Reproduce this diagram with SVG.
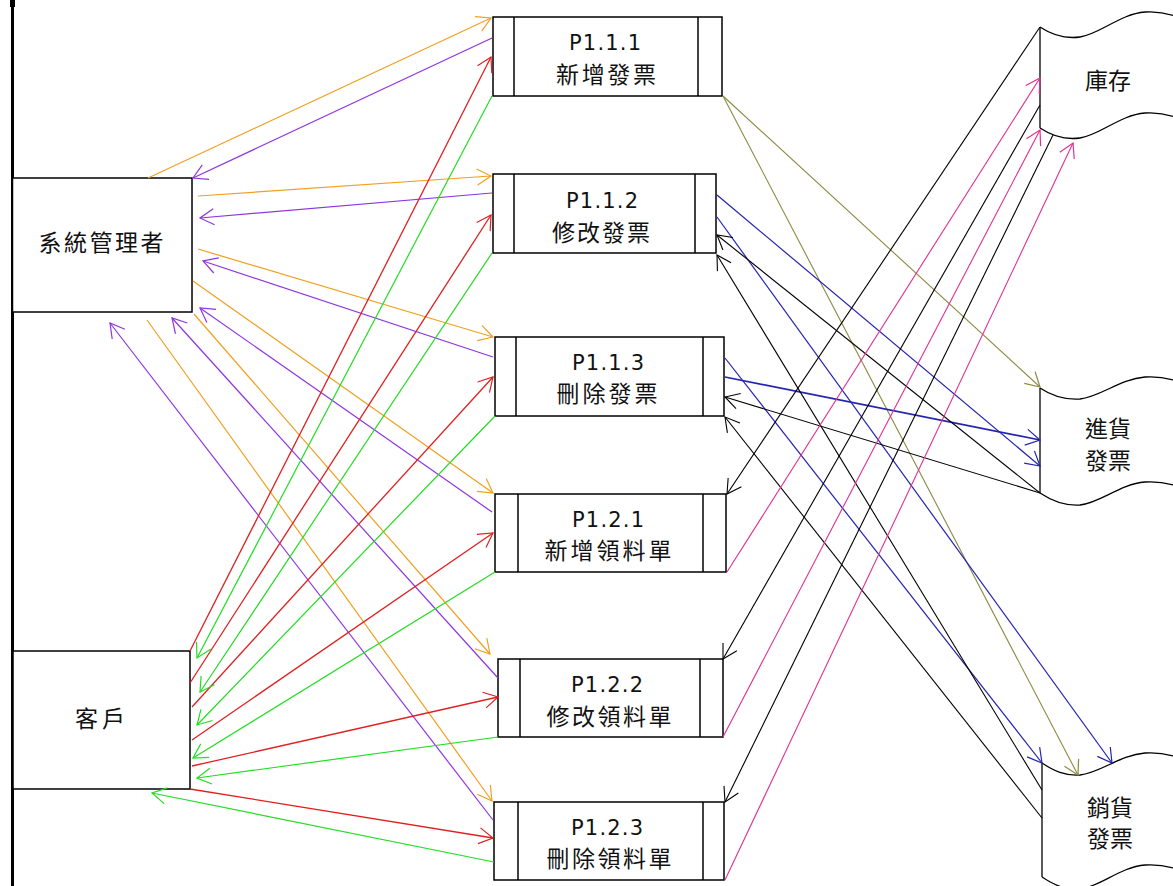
<svg xmlns="http://www.w3.org/2000/svg" width="1173" height="886" viewBox="0 0 1173 886">
<style>
.box{fill:#fff;stroke:#000;stroke-width:1.5}
.in{stroke:#000;stroke-width:1.5}
.ds{fill:none;stroke:#000;stroke-width:1.3}
.t{font-family:"DejaVu Sans","Noto Sans CJK TC",sans-serif;font-size:21px;fill:#111;text-anchor:middle}
.c{font-family:"Noto Sans CJK TC","Noto Sans CJK SC",sans-serif;font-size:23px;fill:#111;text-anchor:middle}
.or{stroke:#f0a020;stroke-width:1.2;fill:none;marker-end:url(#a-or)}
.pu{stroke:#8e35e0;stroke-width:1.2;fill:none;marker-end:url(#a-pu)}
.rd{stroke:#e02020;stroke-width:1.3;fill:none;marker-end:url(#a-rd)}
.gr{stroke:#22dd22;stroke-width:1.2;fill:none;marker-end:url(#a-gr)}
.ol{stroke:#8a8a40;stroke-width:1.1;fill:none;marker-end:url(#a-ol)}
.bl{stroke:#2323b0;stroke-width:1.2;fill:none;marker-end:url(#a-bl)}
.bk{stroke:#000;stroke-width:1.1;fill:none;marker-end:url(#a-bk)}
.pk{stroke:#e0308f;stroke-width:1.1;fill:none;marker-end:url(#a-pk)}
</style>
<defs>
<marker id="a-or" viewBox="-1 -9 17 18" refX="14" refY="0" markerWidth="17" markerHeight="18" markerUnits="userSpaceOnUse" orient="auto"><path d="M0,-8 L14,0 L0,8" fill="none" stroke="#f0a020" stroke-width="1.2"/></marker>
<marker id="a-pu" viewBox="-1 -9 17 18" refX="14" refY="0" markerWidth="17" markerHeight="18" markerUnits="userSpaceOnUse" orient="auto"><path d="M0,-8 L14,0 L0,8" fill="none" stroke="#8e35e0" stroke-width="1.2"/></marker>
<marker id="a-rd" viewBox="-1 -9 17 18" refX="14" refY="0" markerWidth="17" markerHeight="18" markerUnits="userSpaceOnUse" orient="auto"><path d="M0,-8 L14,0 L0,8" fill="none" stroke="#e02020" stroke-width="1.2"/></marker>
<marker id="a-gr" viewBox="-1 -9 17 18" refX="14" refY="0" markerWidth="17" markerHeight="18" markerUnits="userSpaceOnUse" orient="auto"><path d="M0,-8 L14,0 L0,8" fill="none" stroke="#22dd22" stroke-width="1.2"/></marker>
<marker id="a-ol" viewBox="-1 -9 17 18" refX="14" refY="0" markerWidth="17" markerHeight="18" markerUnits="userSpaceOnUse" orient="auto"><path d="M0,-8 L14,0 L0,8" fill="none" stroke="#8a8a40" stroke-width="1.2"/></marker>
<marker id="a-bl" viewBox="-1 -9 17 18" refX="14" refY="0" markerWidth="17" markerHeight="18" markerUnits="userSpaceOnUse" orient="auto"><path d="M0,-8 L14,0 L0,8" fill="none" stroke="#2323b0" stroke-width="1.2"/></marker>
<marker id="a-bk" viewBox="-1 -9 17 18" refX="14" refY="0" markerWidth="17" markerHeight="18" markerUnits="userSpaceOnUse" orient="auto"><path d="M0,-8 L14,0 L0,8" fill="none" stroke="#000" stroke-width="1.1"/></marker>
<marker id="a-pk" viewBox="-1 -9 17 18" refX="14" refY="0" markerWidth="17" markerHeight="18" markerUnits="userSpaceOnUse" orient="auto"><path d="M0,-8 L14,0 L0,8" fill="none" stroke="#e0308f" stroke-width="1.2"/></marker>
</defs>
<rect width="1173" height="886" fill="#fff"/>
<rect x="11" y="0" width="3" height="886" fill="#000"/>
<rect x="10" y="0" width="5" height="7" fill="#000"/>

<g id="admin">
<rect class="box" x="12.5" y="178" width="179.5" height="134"/>
<text class="c" x="101" y="251" textLength="125" lengthAdjust="spacing">系統管理者</text>
</g>
<g id="client">
<rect class="box" x="13" y="651" width="177" height="138"/>
<text class="c" x="100" y="727" textLength="50" lengthAdjust="spacing">客戶</text>
</g>

<g id="p111">
<rect class="box" x="493" y="17" width="229" height="79"/>
<line class="in" x1="514" y1="17" x2="514" y2="96"/><line class="in" x1="698" y1="17" x2="698" y2="96"/>
<text class="t" x="605" y="50" textLength="72" lengthAdjust="spacing">P1.1.1</text>
<text class="c" x="606" y="83" textLength="100" lengthAdjust="spacing">新增發票</text>
</g>
<g id="p112">
<rect class="box" x="493" y="174" width="223" height="79"/>
<line class="in" x1="514" y1="174" x2="514" y2="253"/><line class="in" x1="695" y1="174" x2="695" y2="253"/>
<text class="t" x="602" y="208" textLength="72" lengthAdjust="spacing">P1.1.2</text>
<text class="c" x="601" y="241" textLength="98" lengthAdjust="spacing">修改發票</text>
</g>
<g id="p113">
<rect class="box" x="495" y="337" width="229" height="79"/>
<line class="in" x1="516" y1="337" x2="516" y2="416"/><line class="in" x1="703" y1="337" x2="703" y2="416"/>
<text class="t" x="608" y="370" textLength="72" lengthAdjust="spacing">P1.1.3</text>
<text class="c" x="607" y="402" textLength="101" lengthAdjust="spacing">刪除發票</text>
</g>
<g id="p121">
<rect class="box" x="495" y="494" width="231" height="78"/>
<line class="in" x1="518" y1="494" x2="518" y2="572"/><line class="in" x1="703" y1="494" x2="703" y2="572"/>
<text class="t" x="608" y="527" textLength="72" lengthAdjust="spacing">P1.2.1</text>
<text class="c" x="608" y="559" textLength="127" lengthAdjust="spacing">新增領料單</text>
</g>
<g id="p122">
<rect class="box" x="498" y="659" width="225" height="78"/>
<line class="in" x1="520" y1="659" x2="520" y2="737"/><line class="in" x1="700" y1="659" x2="700" y2="737"/>
<text class="t" x="607" y="692" textLength="72" lengthAdjust="spacing">P1.2.2</text>
<text class="c" x="609" y="725" textLength="125" lengthAdjust="spacing">修改領料單</text>
</g>
<g id="p123">
<rect class="box" x="494" y="802" width="230" height="78"/>
<line class="in" x1="518" y1="802" x2="518" y2="880"/><line class="in" x1="703" y1="802" x2="703" y2="880"/>
<text class="t" x="607" y="835" textLength="72" lengthAdjust="spacing">P1.2.3</text>
<text class="c" x="609" y="867" textLength="125" lengthAdjust="spacing">刪除領料單</text>
</g>

<g id="ds-stock">
<path class="ds" d="M1040,27 C1052,35 1065,39 1080,37 C1100,34 1120,14 1145,12 C1158,11 1168,13 1180,18"/>
<path class="ds" d="M1040,128 C1052,136 1065,140 1080,138 C1100,135 1120,115 1145,113 C1158,112 1168,114 1180,119"/>
<line class="ds" x1="1040" y1="27" x2="1040" y2="128"/>
<text class="c" x="1108" y="89">庫存</text>
</g>
<g id="ds-purchase">
<path class="ds" d="M1040,388 C1052,396 1065,400 1080,399 C1100,397 1120,379 1145,377 C1158,376 1168,378 1180,382"/>
<path class="ds" d="M1040,493 C1052,501 1065,506 1080,505 C1100,503 1120,484 1145,482 C1158,481 1168,483 1180,487"/>
<line class="ds" x1="1040" y1="388" x2="1040" y2="493"/>
<text class="c" x="1108" y="437">進貨</text>
<text class="c" x="1108" y="469">發票</text>
</g>
<g id="ds-sales">
<path class="ds" d="M1042,763 C1054,771 1065,776 1080,775 C1100,773 1120,755 1145,753 C1158,752 1168,754 1180,758"/>
<path class="ds" d="M1042,877 C1054,885 1065,890 1080,889 C1100,887 1120,867 1145,865 C1158,864 1168,866 1180,870"/>
<line class="ds" x1="1042" y1="763" x2="1042" y2="877"/>
<text class="c" x="1110" y="816">銷貨</text>
<text class="c" x="1110" y="847">發票</text>
</g>

<g id="connectors">
<line class="or" x1="148" y1="178" x2="491" y2="18"/>
<line class="or" x1="198" y1="196" x2="491" y2="176"/>
<line class="or" x1="198" y1="249" x2="493" y2="337"/>
<line class="or" x1="193" y1="281" x2="493" y2="493"/>
<line class="or" x1="194" y1="314" x2="490" y2="654"/>
<line class="or" x1="147" y1="320" x2="492" y2="801"/>

<line class="pu" x1="492" y1="38" x2="193" y2="178"/>
<line class="pu" x1="492" y1="193" x2="200" y2="218"/>
<line class="pu" x1="493" y1="357" x2="203" y2="261"/>
<line class="pu" x1="492" y1="512" x2="200" y2="308"/>
<line class="pu" x1="498" y1="678" x2="172" y2="318"/>
<line class="pu" x1="493" y1="820" x2="110" y2="323"/>

<line class="rd" x1="190" y1="651" x2="491" y2="57"/>
<line class="rd" x1="190" y1="683" x2="491" y2="215"/>
<line class="rd" x1="192" y1="707" x2="493" y2="377"/>
<line class="rd" x1="192" y1="740" x2="493" y2="533"/>
<line class="rd" x1="192" y1="766" x2="498" y2="697"/>
<line class="rd" x1="190" y1="789" x2="493" y2="838"/>

<line class="gr" x1="492" y1="96" x2="197" y2="658"/>
<line class="gr" x1="492" y1="253" x2="200" y2="692"/>
<line class="gr" x1="495" y1="416" x2="197" y2="725"/>
<line class="gr" x1="495" y1="572" x2="193" y2="758"/>
<line class="gr" x1="498" y1="737" x2="197" y2="778"/>
<line class="gr" x1="494" y1="862" x2="152" y2="793"/>

<line class="ol" x1="723" y1="96" x2="1040" y2="387"/>
<line class="ol" x1="723" y1="96" x2="1078" y2="775"/>

<line class="bl" x1="717" y1="195" x2="1040" y2="466"/>
<line class="bl" x1="717" y1="217" x2="1112" y2="763"/>
<line class="bl" x1="725" y1="358" x2="1042" y2="763"/>
<line class="bl" x1="725" y1="377" x2="1040" y2="440" style="stroke-width:1.7"/>

<line class="bk" x1="1040" y1="493" x2="717" y2="235"/>
<line class="bk" x1="1042" y1="790" x2="717" y2="255"/>
<line class="bk" x1="1040" y1="493" x2="725" y2="397"/>
<line class="bk" x1="1042" y1="818" x2="725" y2="417"/>
<line class="bk" x1="1040" y1="27" x2="727" y2="494"/>
<line class="bk" x1="1040" y1="105" x2="723" y2="659"/>
<line class="bk" x1="1053" y1="135" x2="725" y2="802"/>

<line class="pk" x1="727" y1="572" x2="1040" y2="78"/>
<line class="pk" x1="723" y1="737" x2="1040" y2="130"/>
<line class="pk" x1="725" y1="880" x2="1073" y2="143"/>
</g>
</svg>
